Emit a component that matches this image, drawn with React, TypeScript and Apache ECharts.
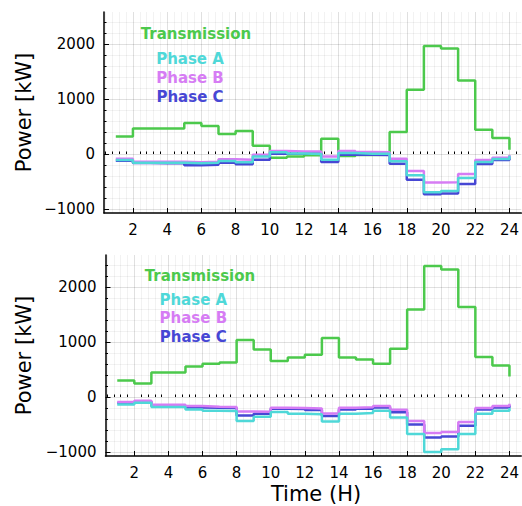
import React, { useEffect, useRef } from "react";
import * as echarts from "echarts";

// Hours (x values)
const hours = [1, 2, 3, 4, 5, 6, 7, 8, 9, 10, 11, 12, 13, 14, 15, 16, 17, 18, 19, 20, 21, 22, 23, 24];

// Top panel (kW)
const topTransmission = [320, 466, 466, 466, 563, 509, 363, 418, 151, -67, -44, -25, 278, -35, -20, -15, 400, 1169, 1969, 1920, 1338, 442, 291, 78];
const topPhaseA = [-109, -158, -158, -158, -170, -158, -127, -150, -44, 30, 10, 0, -103, 18, 6, 6, -134, -389, -698, -673, -436, -145, -91, -30];
const topPhaseB = [-85, -140, -140, -140, -150, -140, -97, -103, -13, 55, 45, 47, -44, 55, 36, 30, -85, -309, -521, -515, -364, -109, -67, -20];
const topPhaseC = [-122, -165, -170, -170, -207, -195, -158, -188, -103, 6, 10, 18, -145, -13, -13, -18, -176, -467, -734, -721, -545, -182, -109, -50];

// Bottom panel (kW)
const botTransmission = [302, 248, 448, 448, 557, 606, 630, 1037, 867, 655, 721, 770, 1073, 721, 685, 606, 879, 1596, 2385, 2324, 1638, 727, 576, 375];
const botPhaseA = [-135, -104, -184, -184, -226, -250, -256, -439, -359, -275, -305, -316, -445, -305, -293, -250, -372, -675, -1003, -954, -675, -305, -250, -200];
const botPhaseB = [-93, -67, -140, -140, -166, -177, -183, -262, -268, -195, -200, -210, -299, -195, -189, -166, -232, -439, -657, -639, -457, -200, -166, -122];
const botPhaseC = [-110, -80, -160, -160, -190, -195, -200, -335, -305, -215, -220, -235, -347, -230, -213, -190, -280, -499, -736, -718, -523, -230, -190, -150];

// Tick labels
const xMajorTicks = [2, 4, 6, 8, 10, 12, 14, 16, 18, 20, 22, 24];
const yMajorTicks = [-1000, 0, 1000, 2000];

const seriesNames = ["Transmission", "Phase A", "Phase B", "Phase C"];
const colors = {
  Transmission: "#4cc94c",
  "Phase A": "#4fd8d8",
  "Phase B": "#d67cf4",
  "Phase C": "#4747d4",
};

const X_MIN = 0.31;
const X_MAX = 24.69;
const Y_MIN = -1075;
const Y_MAX = 2587;

const xMinorTicks: number[] = [];
for (let i = 1; i <= 61; i++) {
  const v = Math.round(i * 0.4 * 10) / 10;
  if (Math.abs(v - Math.round(v)) > 1e-6 || Math.round(v) % 2 !== 0) xMinorTicks.push(v);
}
const yMinorTicks: number[] = [];
for (let v = -1000; v <= 2400; v += 200) {
  if (v % 1000 !== 0) yMinorTicks.push(v);
}

const FONT = "DejaVu Sans";

function pairs(vals: number[]) {
  return hours.map((h, i) => [h, vals[i]]);
}

export default function App() {
  const ref = useRef<HTMLDivElement>(null);
  useEffect(() => {
    if (!ref.current) return;
    const chart = echarts.init(ref.current, null, { renderer: "svg" });

    const grids = [
      { left: 104, top: 12, width: 420, height: 201 },
      { left: 105.5, top: 255, width: 420, height: 201 },
    ];

    const xAxes: any[] = [];
    const yAxes: any[] = [];
    grids.forEach((_, g) => {
      xAxes.push({
        type: "value",
        gridIndex: g,
        position: "bottom",
        min: X_MIN,
        max: X_MAX,
        axisLine: { show: true, onZero: false, lineStyle: { color: "#000", width: 1.5 } },
        axisTick: { show: true, inside: true, length: 5, customValues: xMajorTicks, lineStyle: { color: "#000", width: 1 } },
        axisLabel: { show: true, customValues: xMajorTicks, fontSize: 15, fontFamily: FONT, color: "#000", margin: 9 },
        splitLine: { show: true, lineStyle: { color: "rgba(0,0,0,0.12)", width: 1 } },
      });
      xAxes.push({
        type: "value",
        gridIndex: g,
        position: "bottom",
        min: X_MIN,
        max: X_MAX,
        axisLine: { show: false },
        axisTick: { show: true, inside: true, length: 2.5, customValues: xMinorTicks, lineStyle: { color: "#000", width: 1 } },
        axisLabel: { show: false },
        splitLine: { show: true, lineStyle: { color: "rgba(0,0,0,0.05)", width: 1 } },
      });
      yAxes.push({
        type: "value",
        gridIndex: g,
        position: "left",
        min: Y_MIN,
        max: Y_MAX,
        axisLine: { show: true, onZero: false, lineStyle: { color: "#000", width: 1.5 } },
        axisTick: { show: true, inside: true, length: 5, customValues: yMajorTicks, lineStyle: { color: "#000", width: 1 } },
        axisLabel: {
          show: true,
          customValues: yMajorTicks,
          fontSize: 15,
          fontFamily: FONT,
          color: "#000",
          margin: 9,
          formatter: (v: number) => String(v).replace("-", "\u2212"),
        },
        splitLine: { show: true, lineStyle: { color: "rgba(0,0,0,0.12)", width: 1 } },
      });
      yAxes.push({
        type: "value",
        gridIndex: g,
        position: "left",
        min: Y_MIN,
        max: Y_MAX,
        axisLine: { show: false },
        axisTick: { show: true, inside: true, length: 2.5, customValues: yMinorTicks, lineStyle: { color: "#000", width: 1 } },
        axisLabel: { show: false },
        splitLine: { show: true, lineStyle: { color: "rgba(0,0,0,0.05)", width: 1 } },
      });
    });

    const panels = [
      { Transmission: topTransmission, "Phase A": topPhaseA, "Phase B": topPhaseB, "Phase C": topPhaseC },
      { Transmission: botTransmission, "Phase A": botPhaseA, "Phase B": botPhaseB, "Phase C": botPhaseC },
    ];
    const drawOrder = ["Transmission", "Phase C", "Phase B", "Phase A"];
    const series: any[] = [];
    panels.forEach((p: any, g) => {
      drawOrder.forEach((name, k) => {
        series.push({
          type: "line",
          name,
          xAxisIndex: 2 * g,
          yAxisIndex: 2 * g,
          data: pairs(p[name]),
          step: "end",
          showSymbol: false,
          symbol: "none",
          z: 10 + k,
          lineStyle: { color: (colors as any)[name], width: 2.5 },
          itemStyle: { color: (colors as any)[name] },
        });
      });
    });

    const legendPos = [
      { x: 196, ys: [34, 58.5, 78, 97], xs: [196, 190, 190, 190] },
      { x: 200, ys: [275.7, 299.7, 318.3, 337.3], xs: [200, 193.3, 193.3, 193.3] },
    ];
    const graphics: any[] = [];
    legendPos.forEach((lp) => {
      seriesNames.forEach((name, i) => {
        graphics.push({
          type: "text",
          x: lp.xs[i],
          y: lp.ys[i],
          z: 100,
          style: {
            text: name,
            fill: (colors as any)[name],
            font: `bold 15px "${FONT}"`,
            align: "center",
            verticalAlign: "middle",
          },
        });
      });
    });
    graphics.push({
      type: "text",
      x: 24,
      y: 112.5,
      rotation: Math.PI / 2,
      style: { text: "Power [kW]", fill: "#000", font: `21px "${FONT}"`, align: "center", verticalAlign: "middle" },
    });
    graphics.push({
      type: "text",
      x: 24,
      y: 355.5,
      rotation: Math.PI / 2,
      style: { text: "Power [kW]", fill: "#000", font: `21px "${FONT}"`, align: "center", verticalAlign: "middle" },
    });
    graphics.push({
      type: "text",
      x: 316,
      y: 494,
      style: { text: "Time (H)", fill: "#000", font: `21px "${FONT}"`, align: "center", verticalAlign: "middle" },
    });

    chart.setOption({
      animation: false,
      backgroundColor: "#fff",
      grid: grids,
      xAxis: xAxes,
      yAxis: yAxes,
      series,
      graphic: graphics,
    });
    return () => chart.dispose();
  }, []);
  return <div ref={ref} style={{ position: "fixed", left: 0, top: 0, width: 522, height: 506 }} />;
}
